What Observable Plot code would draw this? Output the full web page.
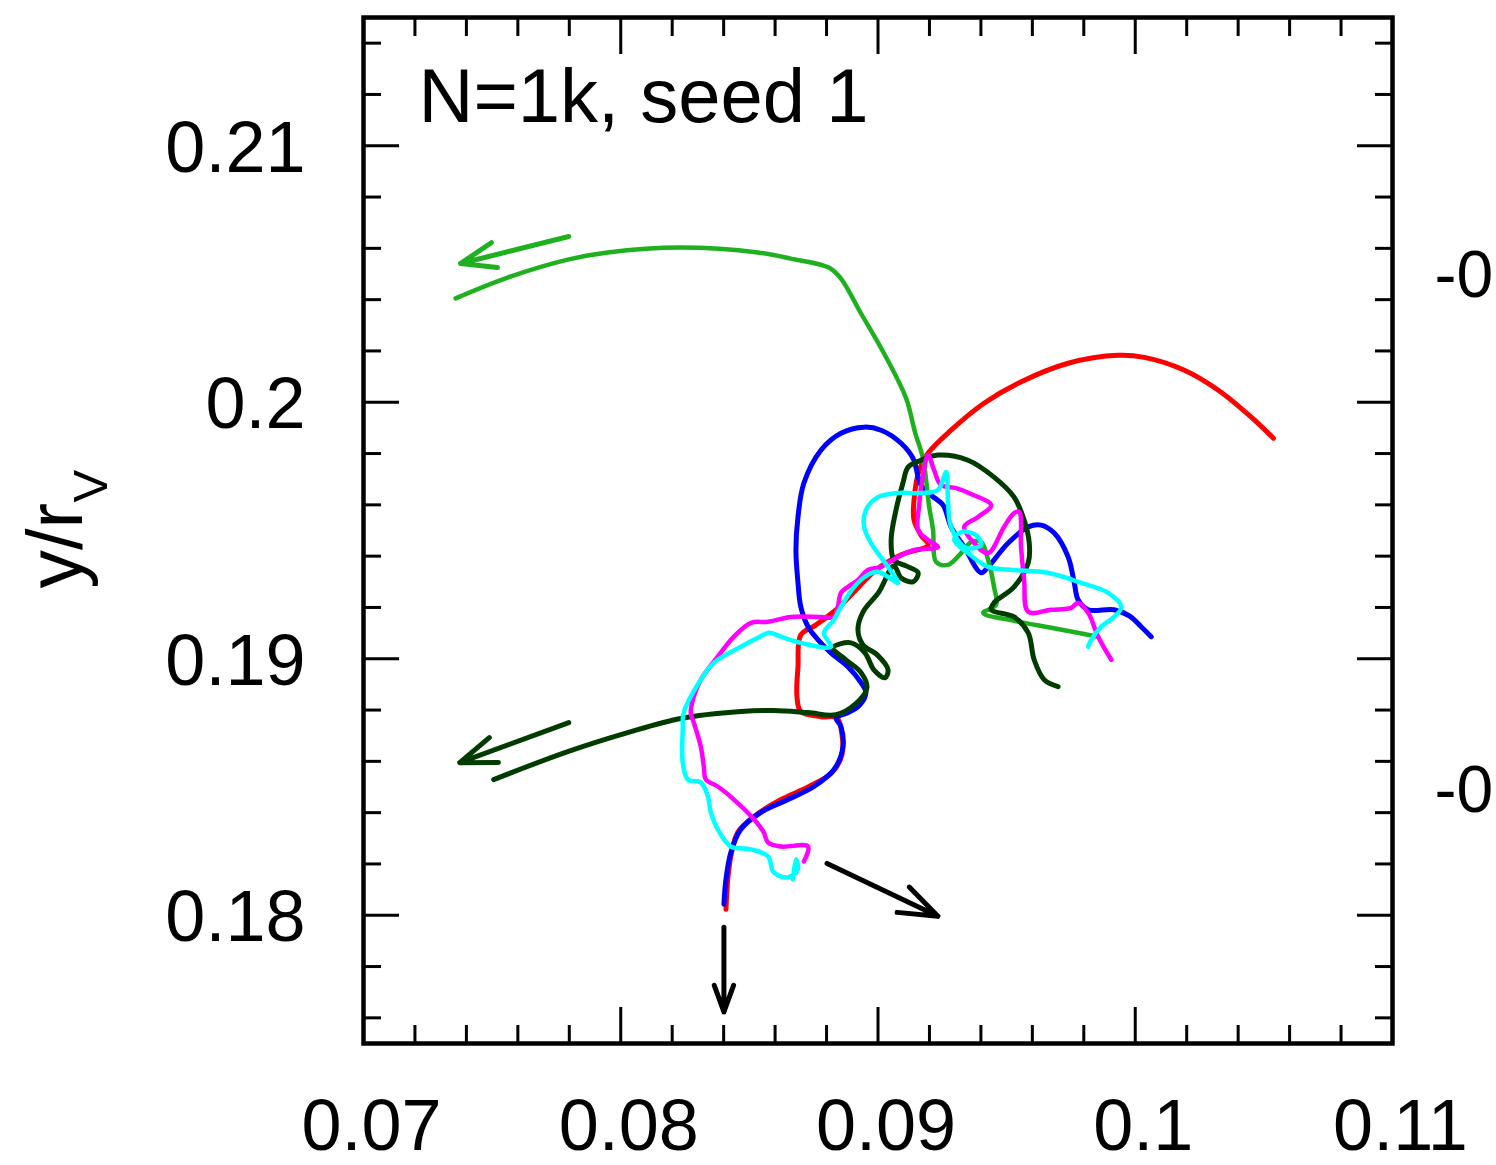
<!DOCTYPE html>
<html>
<head>
<meta charset="utf-8">
<script src="https://cdn.jsdelivr.net/npm/d3@7"></script>
<script src="https://cdn.jsdelivr.net/npm/@observablehq/plot@0.6"></script>
<style>
  html, body { margin: 0; padding: 0; background: #fff; overflow: hidden; }
  svg { display: block; }
</style>
</head>
<body>
<div id="chart"></div>
<script>
// ---- data (x/r_V, y/r_V) ----
const title = "N=1k, seed 1";
const xMajor = [0.07, 0.08, 0.09, 0.1, 0.11];
const xMinor = [0.072,0.074,0.076,0.078,0.082,0.084,0.086,0.088,0.092,0.094,0.096,0.098,0.102,0.104,0.106,0.108];
const yMajor = [0.18, 0.19, 0.2, 0.21];
const yMinor = [0.176,0.178,0.182,0.184,0.186,0.188,0.192,0.194,0.196,0.198,0.202,0.204,0.206,0.208,0.212,0.214];

const redTrack = [
  [0.10537,0.19860],[0.10451,0.19942],[0.10323,0.20047],[0.10191,0.20125],[0.10035,0.20175],
  [0.09934,0.20183],[0.09739,0.20152],[0.09545,0.20074],[0.09412,0.19996],[0.09284,0.19891],
  [0.09195,0.19802],[0.09160,0.19735],[0.09140,0.19619],[0.09140,0.19541],[0.09167,0.19482],
  [0.09195,0.19444],[0.09090,0.19405],[0.08992,0.19346],[0.08914,0.19268],[0.08837,0.19191],
  [0.08759,0.19132],[0.08700,0.19093],[0.08689,0.18969],[0.08685,0.18852],[0.08700,0.18794],
  [0.08778,0.18774],[0.08840,0.18770],[0.08860,0.18704],[0.08860,0.18626],[0.08821,0.18556],
  [0.08732,0.18502],[0.08623,0.18451],[0.08518,0.18385],[0.08455,0.18323],[0.08428,0.18230],
  [0.08416,0.18140],[0.08409,0.18023]
];

const blueTrack = [
  [0.10062,0.19086],[0.10023,0.19125],[0.09977,0.19167],[0.09918,0.19191],[0.09817,0.19191],
  [0.09778,0.19230],[0.09763,0.19296],[0.09739,0.19397],[0.09685,0.19490],[0.09634,0.19521],
  [0.09584,0.19514],[0.09506,0.19451],[0.09428,0.19358],[0.09401,0.19335],[0.09335,0.19436],
  [0.09284,0.19514],[0.09253,0.19599],[0.09206,0.19638],[0.09167,0.19677],[0.09148,0.19743],
  [0.09140,0.19774],[0.09090,0.19840],[0.09012,0.19891],[0.08946,0.19903],[0.08856,0.19879],
  [0.08778,0.19813],[0.08712,0.19685],[0.08689,0.19553],[0.08681,0.19424],[0.08689,0.19296],
  [0.08700,0.19202],[0.08728,0.19125],[0.08767,0.19074],[0.08817,0.19023],[0.08883,0.18969],
  [0.08934,0.18907],[0.08953,0.18868],[0.08926,0.18817],[0.08875,0.18786],[0.08837,0.18770],
  [0.08856,0.18735],[0.08864,0.18658],[0.08829,0.18568],[0.08751,0.18502],[0.08650,0.18451],
  [0.08545,0.18401],[0.08467,0.18335],[0.08428,0.18245],[0.08409,0.18140],[0.08401,0.18043]
];

const greenTrack = [
  [0.09856,0.19086],[0.09673,0.19121],[0.09529,0.19148],[0.09409,0.19179],[0.09459,0.19210],
  [0.09451,0.19280],[0.09428,0.19385],[0.09401,0.19455],[0.09362,0.19455],[0.09323,0.19412],
  [0.09272,0.19366],[0.09226,0.19377],[0.09214,0.19502],[0.09198,0.19599],[0.09187,0.19696],
  [0.09175,0.19782],[0.09144,0.19883],[0.09109,0.20016],[0.09023,0.20191],[0.08934,0.20346],
  [0.08856,0.20482],[0.08809,0.20525],[0.08661,0.20560],[0.08533,0.20584],[0.08233,0.20603],
  [0.07949,0.20584],[0.07794,0.20556],[0.07560,0.20486],[0.07358,0.20405]
];

const darkGreenTrack = [
  [0.09700,0.18891],[0.09646,0.18918],[0.09607,0.18996],[0.09584,0.19101],[0.09529,0.19163],
  [0.09440,0.19191],[0.09451,0.19218],[0.09529,0.19280],[0.09584,0.19374],[0.09588,0.19451],
  [0.09568,0.19541],[0.09529,0.19630],[0.09451,0.19708],[0.09350,0.19774],[0.09233,0.19794],
  [0.09167,0.19774],[0.09117,0.19747],[0.09097,0.19685],[0.09070,0.19580],[0.09051,0.19463],
  [0.09062,0.19385],[0.09109,0.19362],[0.09156,0.19335],[0.09136,0.19300],[0.09090,0.19315],
  [0.09062,0.19362],[0.09004,0.19261],[0.08942,0.19183],[0.08922,0.19113],[0.08942,0.19054],
  [0.08996,0.19016],[0.09039,0.18957],[0.09027,0.18926],[0.08984,0.18957],[0.08949,0.19023],
  [0.08895,0.19062],[0.08825,0.19043],[0.08875,0.18996],[0.08934,0.18946],[0.08957,0.18887],
  [0.08914,0.18825],[0.08837,0.18782],[0.08728,0.18790],[0.08595,0.18798],[0.08467,0.18794],
  [0.08233,0.18767],[0.08027,0.18712],[0.07794,0.18638],[0.07506,0.18529]
];

const magentaTrack = [
  [0.08712,0.18210],[0.08728,0.18268],[0.08623,0.18268],[0.08572,0.18284],[0.08556,0.18323],
  [0.08518,0.18374],[0.08440,0.18451],[0.08377,0.18502],[0.08331,0.18529],[0.08323,0.18580],
  [0.08311,0.18658],[0.08284,0.18751],[0.08272,0.18790],[0.08284,0.18852],[0.08311,0.18918],
  [0.08377,0.19008],[0.08440,0.19086],[0.08506,0.19140],[0.08572,0.19144],[0.08661,0.19163],
  [0.08778,0.19163],[0.08829,0.19163],[0.08844,0.19202],[0.08856,0.19257],[0.08883,0.19280],
  [0.08922,0.19307],[0.08961,0.19346],[0.09012,0.19358],[0.09078,0.19397],[0.09140,0.19424],
  [0.09233,0.19436],[0.09195,0.19463],[0.09156,0.19502],[0.09160,0.19599],[0.09175,0.19716],
  [0.09195,0.19794],[0.09218,0.19735],[0.09245,0.19677],[0.09304,0.19665],[0.09362,0.19642],
  [0.09440,0.19599],[0.09389,0.19553],[0.09335,0.19514],[0.09370,0.19455],[0.09428,0.19412],
  [0.09490,0.19514],[0.09529,0.19568],[0.09549,0.19572],[0.09556,0.19436],[0.09568,0.19307],
  [0.09584,0.19183],[0.09673,0.19191],[0.09751,0.19198],[0.09778,0.19218],[0.09817,0.19179],
  [0.09856,0.19086],[0.09907,0.18996]
];

const cyanTrack = [
  [0.09817,0.19047],[0.09829,0.19074],[0.09868,0.19125],[0.09918,0.19163],[0.09946,0.19202],
  [0.09895,0.19257],[0.09790,0.19296],[0.09661,0.19335],[0.09529,0.19346],[0.09428,0.19358],
  [0.09350,0.19412],[0.09296,0.19463],[0.09323,0.19494],[0.09381,0.19482],[0.09401,0.19444],
  [0.09342,0.19432],[0.09284,0.19514],[0.09272,0.19619],[0.09265,0.19728],[0.09233,0.19658],
  [0.09167,0.19646],[0.09078,0.19646],[0.09000,0.19630],[0.08953,0.19580],[0.08946,0.19514],
  [0.08973,0.19451],[0.09039,0.19358],[0.09078,0.19296],[0.09000,0.19339],[0.08961,0.19327],
  [0.08907,0.19280],[0.08856,0.19202],[0.08829,0.19152],[0.08790,0.19101],[0.08817,0.19047],
  [0.08700,0.19062],[0.08623,0.19086],[0.08576,0.19101],[0.08533,0.19082],[0.08467,0.19047],
  [0.08362,0.18984],[0.08311,0.18918],[0.08245,0.18790],[0.08241,0.18724],[0.08241,0.18595],
  [0.08261,0.18529],[0.08311,0.18518],[0.08339,0.18463],[0.08350,0.18401],[0.08377,0.18335],
  [0.08428,0.18268],[0.08506,0.18257],[0.08572,0.18230],[0.08595,0.18167],[0.08650,0.18148],
  [0.08689,0.18179],[0.08681,0.18218],[0.08669,0.18140]
];

const arrows = [
  {x1: 0.07798, y1: 0.20646, x2: 0.07377, y2: 0.20541, color: "#1fb01f"},
  {x1: 0.07798, y1: 0.18751, x2: 0.07374, y2: 0.18595, color: "#003c00"},
  {x1: 0.08401, y1: 0.17953, x2: 0.08401, y2: 0.17623, color: "#000000"},
  {x1: 0.08802, y1: 0.18202, x2: 0.09233, y2: 0.17996, color: "#000000"}
];

const series = [
  {name: "red", data: redTrack, color: "#ff0000", width: 5},
  {name: "blue", data: blueTrack, color: "#0000ff", width: 5},
  {name: "green", data: greenTrack, color: "#1fb01f", width: 4.5},
  {name: "darkgreen", data: darkGreenTrack, color: "#003c00", width: 5},
  {name: "magenta", data: magentaTrack, color: "#ff00ff", width: 4.5},
  {name: "cyan", data: cyanTrack, color: "#00ffff", width: 4.5}
];

const neighbourLabels = ["-0", "-0"];

const fmt = d => String(d);

const lineMarks = series.map(s =>
  Plot.line(s.data, {x: d => d[0], y: d => d[1], stroke: s.color, strokeWidth: s.width, curve: "catmull-rom", strokeLinejoin: "round", strokeLinecap: "round"})
);

const chart = Plot.plot({
  width: 1496,
  height: 1165,
  marginLeft: 363,
  marginRight: 104,
  marginTop: 17,
  marginBottom: 122,
  style: {fontFamily: "'Liberation Sans', Arial, Helvetica, sans-serif", background: "#fff", color: "#000"},
  x: {domain: [0.07, 0.11], axis: null, label: null},
  y: {domain: [0.175, 0.215], axis: null, label: null},
  marks: [
    ...lineMarks,
    Plot.arrow(arrows, {x1: "x1", y1: "y1", x2: "x2", y2: "y2", stroke: "color", strokeWidth: 5, headLength: 30, headAngle: 40}),
    // inward ticks on all four sides
    Plot.axisX(xMajor, {anchor: "bottom", tickSize: -36, strokeWidth: 3, fill: "none", label: null}),
    Plot.axisX(xMinor, {anchor: "bottom", tickSize: -18, strokeWidth: 3, fill: "none", label: null}),
    Plot.axisX(xMajor, {anchor: "top", tickSize: -36, strokeWidth: 3, fill: "none", label: null}),
    Plot.axisX(xMinor, {anchor: "top", tickSize: -18, strokeWidth: 3, fill: "none", label: null}),
    Plot.axisY(yMajor, {anchor: "left", tickSize: -36, strokeWidth: 3, fill: "none", label: null}),
    Plot.axisY(yMinor, {anchor: "left", tickSize: -18, strokeWidth: 3, fill: "none", label: null}),
    Plot.axisY(yMajor, {anchor: "right", tickSize: -36, strokeWidth: 3, fill: "none", label: null}),
    Plot.axisY(yMinor, {anchor: "right", tickSize: -18, strokeWidth: 3, fill: "none", label: null}),
    // tick labels
    Plot.axisX(xMajor, {anchor: "bottom", tickSize: 0, tickPadding: 55, fontSize: 72, dx: 8, tickFormat: fmt, label: null}),
    Plot.axisY(yMajor, {anchor: "left", tickSize: 0, tickPadding: 58, fontSize: 72, dy: 3, tickFormat: fmt, label: null}),
    Plot.frame({stroke: "#000", strokeWidth: 4.5}),
    Plot.text([title], {frameAnchor: "top-left", dx: 55, dy: 51, lineAnchor: "top", textAnchor: "start", fontSize: 76}),
    // y axis title y/r_V
    Plot.text(["y/r"], {frameAnchor: "left", rotate: -90, textAnchor: "start", fontSize: 77, dx: -306, dy: 58}),
    Plot.text(["V"], {frameAnchor: "left", rotate: -90, textAnchor: "start", fontSize: 49, dx: -272, dy: -28}),
    // labels of the neighbouring panel, at the right edge
    Plot.text([neighbourLabels[0]], {frameAnchor: "top-right", textAnchor: "start", lineAnchor: "middle", fontSize: 66, dx: 42, dy: 258}),
    Plot.text([neighbourLabels[1]], {frameAnchor: "top-right", textAnchor: "start", lineAnchor: "middle", fontSize: 66, dx: 42, dy: 773})
  ]
});

document.getElementById("chart").appendChild(chart);
</script>
</body>
</html>
